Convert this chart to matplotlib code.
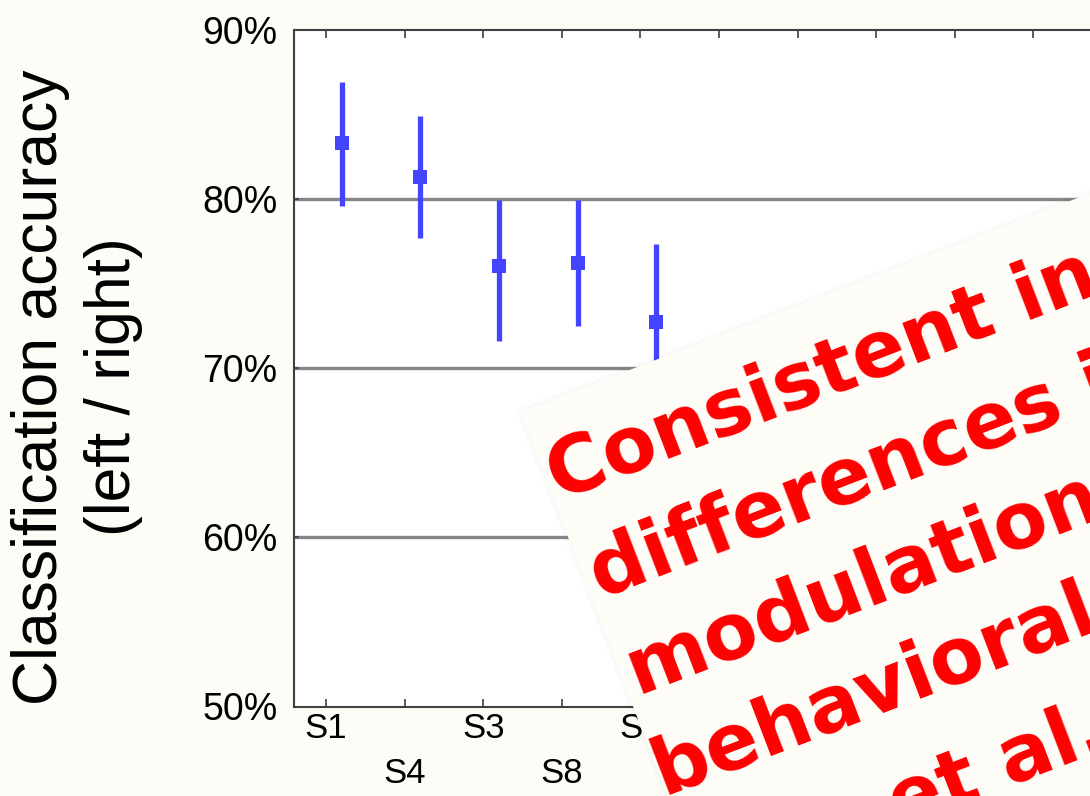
import matplotlib
matplotlib.use("Agg")
import matplotlib.pyplot as plt
import matplotlib.transforms as mtransforms
from matplotlib.patches import Rectangle
import numpy as np

# values
subjects = ["S1", "S4", "S3", "S8", "S5"]
acc_mean = [83.3, 81.3, 76.0, 76.2, 72.7]
acc_low = [79.6, 77.7, 71.6, 72.5, 68.0]
acc_high = [86.9, 84.9, 79.9, 79.9, 77.3]
y_ticks = [50, 60, 70, 80, 90]
grid_levels = [60, 70, 80]
n_slots = 10

ylabel_lines = "Classification accuracy\n(left / right)"
note_lines = ["Consistent in", "differences in", "modulation", "behavioral", "et al.,"]

W, H = 1090, 796
cream = "#fefcf6"
blue = "#4444ff"

fig = plt.figure(figsize=(W / 100, H / 100), dpi=100, facecolor=cream)
ax = fig.add_axes([294 / W, 89.5 / H, 866 / W, 677 / H])
ax.set_facecolor("white")

x = np.arange(1, len(subjects) + 1)
mean = np.array(acc_mean)
yerr = [mean - np.array(acc_low), np.array(acc_high) - mean]
ax.errorbar(x + 0.2, mean, yerr=yerr, fmt="s", color=blue, ms=9.5, mew=0,
            elinewidth=3.8, capsize=0, zorder=3)

for g in grid_levels:
    ax.axhline(g, color="#858585", lw=2.4, zorder=1)

ax.set_ylim(50, 90)
ax.set_xlim(1 - 32 / 78.6, 1 - 32 / 78.6 + 866 / 78.6)
ax.set_yticks(y_ticks)
ax.set_yticklabels([f"{v}%" for v in y_ticks])

slots = np.arange(1, n_slots + 1)
ax.set_xticks(slots)
labels = [s if i % 2 == 0 else "\n" + s for i, s in enumerate(subjects)]
ax.set_xticklabels(labels + [""] * (n_slots - len(subjects)))

for s in ax.spines.values():
    s.set_color("#404040")
    s.set_linewidth(1.5)
ax.tick_params(axis="x", direction="in", length=6, width=1.2, color="#404040",
               top=True, pad=4, labelsize=25)
ax.tick_params(axis="y", direction="in", length=3.5, width=1.2, color="#404040",
               pad=12, labelsize=27)
for lab in ax.get_xticklabels() + ax.get_yticklabels():
    lab.set_fontfamily("Liberation Sans")
for lab in ax.get_xticklabels():
    lab.set_linespacing(1.45)

fig.text(77 / W, 409 / H, ylabel_lines, rotation=90, ha="center", va="center",
         fontsize=45, family="Liberation Sans", linespacing=1.3)

# rotated note sheet laid over the lower right of the chart
sheet_tf = (mtransforms.Affine2D().rotate_deg(21).translate(520, 384)
            .scale(1 / W, 1 / H) + fig.transFigure)
for k, a in enumerate([0.015, 0.01]):
    fig.add_artist(Rectangle((-2 - k * 2, -1500), 1700, 1502 + k * 2,
                             transform=sheet_tf, facecolor="#000000",
                             alpha=a, edgecolor="none", zorder=4))
fig.add_artist(Rectangle((0, -1500), 1700, 1500, transform=sheet_tf,
                         facecolor=cream, edgecolor="none", zorder=5))

line_v = [97, 203, 305, 409, 525]
line_u = [4, 8, 8, -4, 205]
for txt, u, v in zip(note_lines, line_u, line_v):
    fig.text(u, -v, txt, transform=sheet_tf, rotation=21, rotation_mode="anchor",
             ha="left", va="baseline", fontsize=56.5, fontweight="bold",
             color="#ff0000", family="DejaVu Sans", zorder=6)

fig.savefig("out.png", dpi=100, facecolor=cream)
